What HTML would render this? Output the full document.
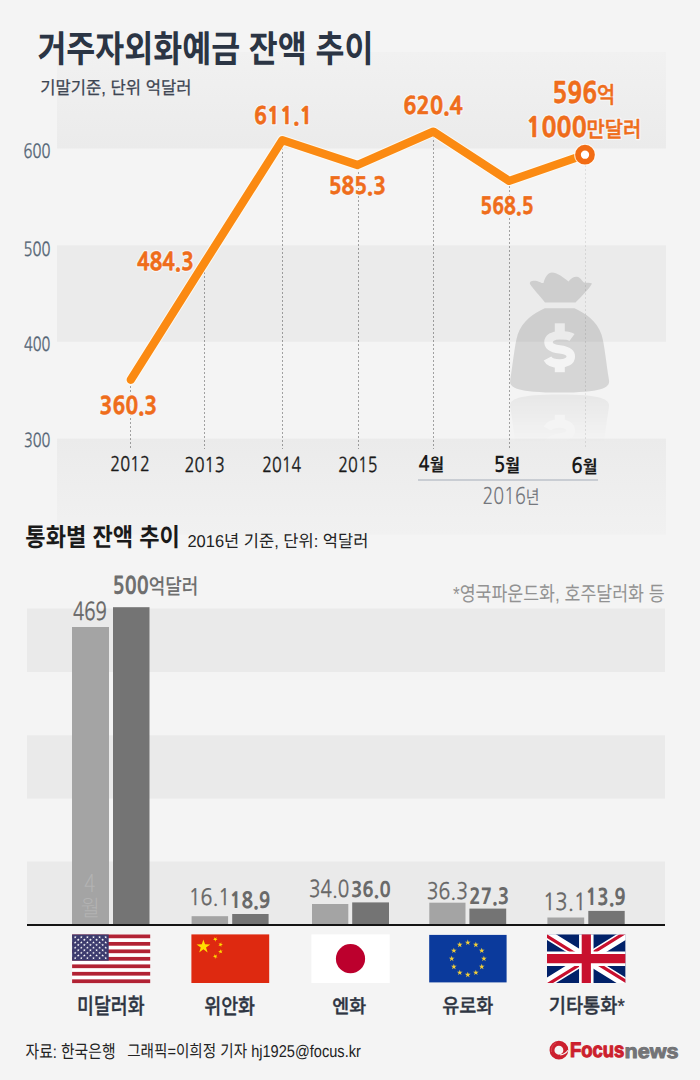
<!DOCTYPE html>
<html lang="ko"><head><meta charset="utf-8"><title>거주자외화예금 잔액 추이</title>
<style>
html,body{margin:0;padding:0;background:#f4f4f4;}
body{width:700px;height:1080px;overflow:hidden;}
svg{display:block;} text{text-rendering:geometricPrecision;}
</style></head>
<body>
<svg width="700" height="1080" viewBox="0 0 700 1080">
<defs>
 <linearGradient id="gA" x1="0" y1="0" x2="0" y2="1"><stop offset="0" stop-color="#f1f1f1"/><stop offset="1" stop-color="#ebebeb"/></linearGradient>
 <linearGradient id="gC" x1="0" y1="0" x2="0" y2="1"><stop offset="0" stop-color="#ebebeb"/><stop offset="1" stop-color="#f1f1f1"/></linearGradient>
 <linearGradient id="gR" x1="0" y1="0" x2="0" y2="1"><stop offset="0" stop-color="#fff" stop-opacity="0.42"/><stop offset="1" stop-color="#fff" stop-opacity="0"/></linearGradient>
 <mask id="mDollar" maskUnits="userSpaceOnUse" x="490" y="260" width="140" height="200">
  <rect x="490" y="260" width="140" height="200" fill="#fff"/>
  <rect x="554.8" y="323.3" width="10" height="10" fill="#000"/>
  <rect x="554.8" y="364" width="10" height="8.2" fill="#000"/>
  <path d="M572 337.5 C569.5 335.6 565 335.2 559.7 335.2 C553 335.2 548.5 338 548.5 342.2 C548.5 347 553 348.5 559.7 349.4 C566.5 350.3 570.8 352 570.8 356.5 C570.8 361 566 363.6 559.7 363.6 C553.5 363.6 549 361.5 547.5 358.5" fill="none" stroke="#000" stroke-width="8.5"/>
 </mask>
 <mask id="mRefl" maskUnits="userSpaceOnUse" x="490" y="390" width="140" height="70">
  <rect x="490" y="393" width="140" height="50" fill="url(#gR)"/>
 </mask>
 <g id="bag">
  <path d="M545 302.5 C540 296 533 289 530 284 C529 281 533 280 537 281 C540 282 542 283.5 543.5 283 C545 277 548 272.5 552 272.5 C557 272.5 563 277 568.5 281.5 C571 278 574 276.5 577 276.8 C580 277 582 281 584 282.5 C587 283 590 282.5 592 283.5 C590 288 582 296 575.5 302.5 Z"/>
  <path d="M544.7 308.3 L574.5 308.3 C585 313 597 321 601.5 334.6 C604.5 344 606 362 609 380 C610.5 388 601 392.6 559.6 392.6 C518 392.6 508.7 388 510.2 380 C513.2 362 514.7 344 517.7 334.6 C522.2 321 534.2 313 544.7 308.3 Z"/>
 </g>
</defs>
<g class="shape">
 <rect x="0" y="0" width="700" height="1080" fill="#f4f4f4"/>
 <!-- top chart bands -->
 <rect x="57" y="52" width="609" height="96.5" fill="url(#gA)"/>
 <rect x="57" y="245.3" width="609" height="96.5" fill="#ebebeb"/>
 <rect x="57" y="438.6" width="609" height="96" fill="url(#gC)"/>
 <!-- money bag -->
 <g mask="url(#mDollar)" fill="#000" fill-opacity="0.12"><use href="#bag"/></g>
 <g mask="url(#mRefl)"><g transform="translate(0 787) scale(1 -1)" fill="#000" fill-opacity="0.12"><use href="#bag" mask="url(#mDollar)"/></g></g>
 <!-- dotted lines -->
 <g stroke="#000" stroke-opacity="0.34" stroke-width="1" stroke-dasharray="2 2">
  <line x1="130.5" y1="386" x2="130.5" y2="449"/>
  <line x1="204.5" y1="272" x2="204.5" y2="449"/>
  <line x1="282.5" y1="144" x2="282.5" y2="449"/>
  <line x1="358.5" y1="168" x2="358.5" y2="449"/>
  <line x1="433.5" y1="136" x2="433.5" y2="449"/>
  <line x1="509.5" y1="186" x2="509.5" y2="449"/>
  <line x1="585.5" y1="165" x2="585.5" y2="449" stroke-opacity="0.09"/>
 </g>
 <!-- orange line -->
 <polyline points="130.8,379.8 204.5,262.8 282.3,140.1 357.5,165.0 433.3,131.6 509.2,180.9 585,154.7" fill="none" stroke="#fffbf2" stroke-opacity="0.8" stroke-width="10.4" stroke-linecap="round" stroke-linejoin="round"/>
 <polyline points="130.8,379.8 204.5,262.8 282.3,140.1 357.5,165.0 433.3,131.6 509.2,180.9 585,154.7" fill="none" stroke="#fb8a12" stroke-width="8.3" stroke-linecap="round" stroke-linejoin="round"/>
 <circle cx="585" cy="154.7" r="10.9" fill="#fffbf2" fill-opacity="0.8"/>
 <circle cx="585" cy="154.7" r="7.0" fill="#fff" stroke="#f26c14" stroke-width="5.7"/>
 <!-- month separator -->
 <rect x="418" y="479" width="180" height="2" fill="#c9cdd3"/>
 <!-- bottom chart bands -->
 <rect x="27" y="608.5" width="638" height="63.5" fill="#eaeaea"/>
 <rect x="27" y="735.3" width="638" height="63.3" fill="#eaeaea"/>
 <rect x="27" y="861.5" width="638" height="63.5" fill="#eaeaea"/>
 <!-- bars -->
 <g fill="#a4a4a4">
  <rect x="72" y="627" width="37" height="297"/>
  <rect x="191.6" y="916.2" width="36.5" height="7.8"/>
  <rect x="312" y="904" width="36.3" height="20"/>
  <rect x="429.3" y="902.7" width="36.2" height="21.3"/>
  <rect x="547.4" y="917.5" width="36.8" height="6.5"/>
 </g>
 <g fill="#747474">
  <rect x="113" y="607.2" width="36.5" height="316.8"/>
  <rect x="232.2" y="914" width="36.4" height="10"/>
  <rect x="352.2" y="902.4" width="36.8" height="21.6"/>
  <rect x="469.4" y="908.6" width="36.8" height="15.4"/>
  <rect x="588.3" y="910.9" width="36.4" height="13.1"/>
 </g>
 <rect x="27" y="924" width="638" height="2" fill="#141414"/>
<!-- flags -->
<defs><polygon id="st" points="0.00,-1.50 0.34,-0.46 1.43,-0.46 0.54,0.18 0.88,1.21 0.00,0.57 -0.88,1.21 -0.54,0.18 -1.43,-0.46 -0.34,-0.46"/></defs>
<g id="flagUS">
 <rect x="72.1" y="934.5" width="78.1" height="48.6" fill="#fff"/>
 <rect x="72.1" y="934.50" width="78.1" height="3.74" fill="#b22234"/><rect x="72.1" y="941.98" width="78.1" height="3.74" fill="#b22234"/><rect x="72.1" y="949.45" width="78.1" height="3.74" fill="#b22234"/><rect x="72.1" y="956.93" width="78.1" height="3.74" fill="#b22234"/><rect x="72.1" y="964.41" width="78.1" height="3.74" fill="#b22234"/><rect x="72.1" y="971.88" width="78.1" height="3.74" fill="#b22234"/><rect x="72.1" y="979.36" width="78.1" height="3.74" fill="#b22234"/>
 <rect x="72.1" y="934.5" width="36.6" height="26.17" fill="#3c3b6e"/>
 <g fill="#fff"><use href="#st" x="75.20" y="937.20"/><use href="#st" x="81.30" y="937.20"/><use href="#st" x="87.40" y="937.20"/><use href="#st" x="93.50" y="937.20"/><use href="#st" x="99.60" y="937.20"/><use href="#st" x="105.70" y="937.20"/><use href="#st" x="78.25" y="939.81"/><use href="#st" x="84.35" y="939.81"/><use href="#st" x="90.45" y="939.81"/><use href="#st" x="96.55" y="939.81"/><use href="#st" x="102.65" y="939.81"/><use href="#st" x="75.20" y="942.43"/><use href="#st" x="81.30" y="942.43"/><use href="#st" x="87.40" y="942.43"/><use href="#st" x="93.50" y="942.43"/><use href="#st" x="99.60" y="942.43"/><use href="#st" x="105.70" y="942.43"/><use href="#st" x="78.25" y="945.04"/><use href="#st" x="84.35" y="945.04"/><use href="#st" x="90.45" y="945.04"/><use href="#st" x="96.55" y="945.04"/><use href="#st" x="102.65" y="945.04"/><use href="#st" x="75.20" y="947.65"/><use href="#st" x="81.30" y="947.65"/><use href="#st" x="87.40" y="947.65"/><use href="#st" x="93.50" y="947.65"/><use href="#st" x="99.60" y="947.65"/><use href="#st" x="105.70" y="947.65"/><use href="#st" x="78.25" y="950.26"/><use href="#st" x="84.35" y="950.26"/><use href="#st" x="90.45" y="950.26"/><use href="#st" x="96.55" y="950.26"/><use href="#st" x="102.65" y="950.26"/><use href="#st" x="75.20" y="952.88"/><use href="#st" x="81.30" y="952.88"/><use href="#st" x="87.40" y="952.88"/><use href="#st" x="93.50" y="952.88"/><use href="#st" x="99.60" y="952.88"/><use href="#st" x="105.70" y="952.88"/><use href="#st" x="78.25" y="955.49"/><use href="#st" x="84.35" y="955.49"/><use href="#st" x="90.45" y="955.49"/><use href="#st" x="96.55" y="955.49"/><use href="#st" x="102.65" y="955.49"/><use href="#st" x="75.20" y="958.10"/><use href="#st" x="81.30" y="958.10"/><use href="#st" x="87.40" y="958.10"/><use href="#st" x="93.50" y="958.10"/><use href="#st" x="99.60" y="958.10"/><use href="#st" x="105.70" y="958.10"/></g>
</g>
<g id="flagCN"><rect x="191.4" y="934.4" width="77.8" height="48.6" fill="#de2910"/><polygon points="203.40,939.40 205.02,944.37 210.25,944.38 206.02,947.45 207.63,952.42 203.40,949.35 199.17,952.42 200.78,947.45 196.55,944.38 201.78,944.37" fill="#ffde00"/><polygon points="216.77,937.18 216.21,938.90 217.68,939.97 215.86,939.97 215.30,941.70 214.74,939.97 212.92,939.97 214.39,938.90 213.83,937.18 215.30,938.25" fill="#ffde00"/><polygon points="221.27,942.22 221.27,944.04 223.00,944.60 221.27,945.16 221.27,946.98 220.20,945.51 218.48,946.07 219.54,944.60 218.48,943.13 220.20,943.69" fill="#ffde00"/><polygon points="220.07,949.14 220.92,950.74 222.71,950.43 221.45,951.73 222.30,953.34 220.67,952.54 219.40,953.85 219.66,952.05 218.02,951.25 219.81,950.94" fill="#ffde00"/><polygon points="214.05,954.23 215.40,955.45 216.97,954.54 216.23,956.20 217.58,957.42 215.78,957.23 215.04,958.89 214.66,957.11 212.85,956.92 214.43,956.01" fill="#ffde00"/></g>
<g id="flagJP"><rect x="311.4" y="934.4" width="78.3" height="48.6" fill="#fff"/><circle cx="350.5" cy="958.7" r="14.6" fill="#bc002d"/></g>
<g id="flagEU"><rect x="429.2" y="934.9" width="77.4" height="47.5" fill="#0b3a9c"/><polygon points="467.80,939.60 468.47,941.67 470.65,941.67 468.89,942.95 469.56,945.03 467.80,943.75 466.04,945.03 466.71,942.95 464.95,941.67 467.13,941.67" fill="#f3cf38"/><polygon points="475.85,941.76 476.52,943.83 478.70,943.83 476.94,945.11 477.61,947.18 475.85,945.90 474.09,947.18 474.76,945.11 473.00,943.83 475.18,943.83" fill="#f3cf38"/><polygon points="481.74,947.65 482.42,949.72 484.60,949.72 482.83,951.00 483.51,953.08 481.74,951.80 479.98,953.08 480.65,951.00 478.89,949.72 481.07,949.72" fill="#f3cf38"/><polygon points="483.90,955.70 484.57,957.77 486.75,957.77 484.99,959.05 485.66,961.13 483.90,959.85 482.14,961.13 482.81,959.05 481.05,957.77 483.23,957.77" fill="#f3cf38"/><polygon points="481.74,963.75 482.42,965.82 484.60,965.82 482.83,967.10 483.51,969.18 481.74,967.90 479.98,969.18 480.65,967.10 478.89,965.82 481.07,965.82" fill="#f3cf38"/><polygon points="475.85,969.64 476.52,971.72 478.70,971.72 476.94,973.00 477.61,975.07 475.85,973.79 474.09,975.07 474.76,973.00 473.00,971.72 475.18,971.72" fill="#f3cf38"/><polygon points="467.80,971.80 468.47,973.87 470.65,973.87 468.89,975.15 469.56,977.23 467.80,975.95 466.04,977.23 466.71,975.15 464.95,973.87 467.13,973.87" fill="#f3cf38"/><polygon points="459.75,969.64 460.42,971.72 462.60,971.72 460.84,973.00 461.51,975.07 459.75,973.79 457.99,975.07 458.66,973.00 456.90,971.72 459.08,971.72" fill="#f3cf38"/><polygon points="453.86,963.75 454.53,965.82 456.71,965.82 454.95,967.10 455.62,969.18 453.86,967.90 452.09,969.18 452.77,967.10 451.00,965.82 453.18,965.82" fill="#f3cf38"/><polygon points="451.70,955.70 452.37,957.77 454.55,957.77 452.79,959.05 453.46,961.13 451.70,959.85 449.94,961.13 450.61,959.05 448.85,957.77 451.03,957.77" fill="#f3cf38"/><polygon points="453.86,947.65 454.53,949.72 456.71,949.72 454.95,951.00 455.62,953.08 453.86,951.80 452.09,953.08 452.77,951.00 451.00,949.72 453.18,949.72" fill="#f3cf38"/><polygon points="459.75,941.76 460.42,943.83 462.60,943.83 460.84,945.11 461.51,947.18 459.75,945.90 457.99,947.18 458.66,945.11 456.90,943.83 459.08,943.83" fill="#f3cf38"/></g>
<svg id="flagUK" x="547" y="934.3" width="78.6" height="48.7" viewBox="0 0 78.6 48.7" preserveAspectRatio="none">
 <clipPath id="ukc"><rect width="78.6" height="48.7"/></clipPath>
 <clipPath id="ukt"><path d="M39.3,24.35 H78.6 V48.7 Z V48.7 H0 Z H0 V0 Z V0 H78.6 Z"/></clipPath>
 <g clip-path="url(#ukc)">
 <rect width="78.6" height="48.7" fill="#012169"/>
 <path d="M0,0 L78.6,48.7 M78.6,0 L0,48.7" stroke="#fff" stroke-width="9.5"/>
 <path d="M0,0 L78.6,48.7 M78.6,0 L0,48.7" stroke="#c8102e" stroke-width="6.4" clip-path="url(#ukt)"/>
 <path d="M39.3,0 V48.7 M0,24.35 H78.6" stroke="#fff" stroke-width="14.5"/>
 <path d="M39.3,0 V48.7 M0,24.35 H78.6" stroke="#c8102e" stroke-width="9.2"/>
 </g>
</svg>
<g id="logo">
 <circle cx="558.9" cy="1050.2" r="6.9" fill="none" stroke="#cc1f2e" stroke-width="4.9"/>
 <path d="M560.2 1054.8 C563.5 1054.6 566.2 1053 568 1050.2" fill="none" stroke="#f4f4f4" stroke-width="1.2"/>
 <path d="M551.5 1052 C551 1048 552.5 1044.5 556 1043" fill="none" stroke="#f08a90" stroke-width="0.6" opacity="0.6"/>
</g>
</g>
<text id="title" x="37.38" y="61.53" font-family="'Liberation Sans','Noto Sans CJK KR',sans-serif" font-weight="700" font-size="36.84" textLength="336.10" lengthAdjust="spacingAndGlyphs" fill="#2b3544">거주자외화예금 잔액 추이</text>
<text id="sub" x="40.35" y="94.25" font-family="'Liberation Sans','Noto Sans CJK KR',sans-serif" font-weight="400" font-size="17.83" textLength="151.05" lengthAdjust="spacingAndGlyphs" fill="#3d4552" stroke="#3d4552" stroke-width="0.25" stroke-linejoin="round">기말기준, 단위 억달러</text>
<text id="y600" x="23.52" y="158.10" font-family="'NanumGothic','Liberation Sans',sans-serif" font-weight="400" font-size="19.81" textLength="26.85" lengthAdjust="spacingAndGlyphs" fill="#566676" stroke="#566676" stroke-width="0.3" stroke-linejoin="round">600</text>
<text id="y500" x="23.45" y="256.03" font-family="'NanumGothic','Liberation Sans',sans-serif" font-weight="400" font-size="19.39" textLength="26.91" lengthAdjust="spacingAndGlyphs" fill="#566676" stroke="#566676" stroke-width="0.3" stroke-linejoin="round">500</text>
<text id="y400" x="24.01" y="350.90" font-family="'NanumGothic','Liberation Sans',sans-serif" font-weight="400" font-size="19.39" textLength="26.34" lengthAdjust="spacingAndGlyphs" fill="#566676" stroke="#566676" stroke-width="0.3" stroke-linejoin="round">400</text>
<text id="y300" x="23.95" y="447.15" font-family="'NanumGothic','Liberation Sans',sans-serif" font-weight="400" font-size="19.31" textLength="26.46" lengthAdjust="spacingAndGlyphs" fill="#566676" stroke="#566676" stroke-width="0.3" stroke-linejoin="round">300</text>
<text x="99.62" y="414.46" font-family="'NanumGothic','Liberation Sans',sans-serif" font-weight="800" font-size="23.74" textLength="57.48" lengthAdjust="spacingAndGlyphs" fill="none" stroke="#f6f6f6" stroke-width="3" stroke-linejoin="round">360.3</text><text id="v1" x="99.62" y="414.46" font-family="'NanumGothic','Liberation Sans',sans-serif" font-weight="800" font-size="23.74" textLength="57.48" lengthAdjust="spacingAndGlyphs" fill="#ef6d1b" stroke="#ef6d1b" stroke-width="0.5" stroke-linejoin="round">360.3</text>
<text x="137.10" y="269.73" font-family="'NanumGothic','Liberation Sans',sans-serif" font-weight="800" font-size="23.79" textLength="56.63" lengthAdjust="spacingAndGlyphs" fill="none" stroke="#f6f6f6" stroke-width="3" stroke-linejoin="round">484.3</text><text id="v2" x="137.10" y="269.73" font-family="'NanumGothic','Liberation Sans',sans-serif" font-weight="800" font-size="23.79" textLength="56.63" lengthAdjust="spacingAndGlyphs" fill="#ef6d1b" stroke="#ef6d1b" stroke-width="0.5" stroke-linejoin="round">484.3</text>
<text x="253.95" y="124.43" font-family="'NanumGothic','Liberation Sans',sans-serif" font-weight="800" font-size="23.37" textLength="58.45" lengthAdjust="spacingAndGlyphs" fill="none" stroke="#f6f6f6" stroke-width="3" stroke-linejoin="round">611.1</text><text id="v3" x="253.95" y="124.43" font-family="'NanumGothic','Liberation Sans',sans-serif" font-weight="800" font-size="23.37" textLength="58.45" lengthAdjust="spacingAndGlyphs" fill="#ef6d1b" stroke="#ef6d1b" stroke-width="0.5" stroke-linejoin="round">611.1</text>
<text x="328.74" y="194.37" font-family="'NanumGothic','Liberation Sans',sans-serif" font-weight="800" font-size="23.12" textLength="57.18" lengthAdjust="spacingAndGlyphs" fill="none" stroke="#f6f6f6" stroke-width="3" stroke-linejoin="round">585.3</text><text id="v4" x="328.74" y="194.37" font-family="'NanumGothic','Liberation Sans',sans-serif" font-weight="800" font-size="23.12" textLength="57.18" lengthAdjust="spacingAndGlyphs" fill="#ef6d1b" stroke="#ef6d1b" stroke-width="0.5" stroke-linejoin="round">585.3</text>
<text x="403.20" y="114.00" font-family="'NanumGothic','Liberation Sans',sans-serif" font-weight="800" font-size="23.58" textLength="59.62" lengthAdjust="spacingAndGlyphs" fill="none" stroke="#f6f6f6" stroke-width="3" stroke-linejoin="round">620.4</text><text id="v5" x="403.20" y="114.00" font-family="'NanumGothic','Liberation Sans',sans-serif" font-weight="800" font-size="23.58" textLength="59.62" lengthAdjust="spacingAndGlyphs" fill="#ef6d1b" stroke="#ef6d1b" stroke-width="0.5" stroke-linejoin="round">620.4</text>
<text x="480.32" y="213.81" font-family="'NanumGothic','Liberation Sans',sans-serif" font-weight="800" font-size="22.88" textLength="53.18" lengthAdjust="spacingAndGlyphs" fill="none" stroke="#f6f6f6" stroke-width="3" stroke-linejoin="round">568.5</text><text id="v6" x="480.32" y="213.81" font-family="'NanumGothic','Liberation Sans',sans-serif" font-weight="800" font-size="22.88" textLength="53.18" lengthAdjust="spacingAndGlyphs" fill="#ef6d1b" stroke="#ef6d1b" stroke-width="0.5" stroke-linejoin="round">568.5</text>
<text id="x2012" x="110.28" y="471.39" font-family="'NanumGothic','Liberation Sans',sans-serif" font-weight="400" font-size="20.09" textLength="39.61" lengthAdjust="spacingAndGlyphs" fill="#1a1a1a" stroke="#1a1a1a" stroke-width="0.35" stroke-linejoin="round">2012</text>
<text id="x2013" x="184.43" y="471.58" font-family="'NanumGothic','Liberation Sans',sans-serif" font-weight="400" font-size="20.18" textLength="40.37" lengthAdjust="spacingAndGlyphs" fill="#1a1a1a" stroke="#1a1a1a" stroke-width="0.35" stroke-linejoin="round">2013</text>
<text id="x2014" x="262.22" y="471.58" font-family="'NanumGothic','Liberation Sans',sans-serif" font-weight="400" font-size="20.53" textLength="38.94" lengthAdjust="spacingAndGlyphs" fill="#1a1a1a" stroke="#1a1a1a" stroke-width="0.35" stroke-linejoin="round">2014</text>
<text id="x2015" x="338.37" y="471.73" font-family="'NanumGothic','Liberation Sans',sans-serif" font-weight="400" font-size="20.47" textLength="39.06" lengthAdjust="spacingAndGlyphs" fill="#1a1a1a" stroke="#1a1a1a" stroke-width="0.35" stroke-linejoin="round">2015</text>
<text id="sec2" x="25.37" y="545.96" font-family="'Liberation Sans','Noto Sans CJK KR',sans-serif" font-weight="700" font-size="25.19" textLength="154.38" lengthAdjust="spacingAndGlyphs" fill="#1a1a1a">통화별 잔액 추이</text>
<text id="sec2sub" x="187.46" y="547.09" font-family="'Liberation Sans','Noto Sans CJK KR',sans-serif" font-weight="400" font-size="17.07" textLength="180.86" lengthAdjust="spacingAndGlyphs" fill="#222222">2016년 기준, 단위: 억달러</text>
<text id="b469" x="73.09" y="620.15" font-family="'NanumGothic','Liberation Sans',sans-serif" font-weight="400" font-size="24.56" textLength="33.82" lengthAdjust="spacingAndGlyphs" fill="#666666" stroke="#666666" stroke-width="0.4" stroke-linejoin="round">469</text>
<text id="note" x="452.95" y="601.47" font-family="'Liberation Sans','Noto Sans CJK KR',sans-serif" font-weight="400" font-size="20.43" textLength="211.72" lengthAdjust="spacingAndGlyphs" fill="#929292">*영국파운드화, 호주달러화 등</text>
<text id="b161" x="188.73" y="904.58" font-family="'NanumGothic','Liberation Sans',sans-serif" font-weight="400" font-size="22.54" textLength="41.52" lengthAdjust="spacingAndGlyphs" fill="#666666" stroke="#666666" stroke-width="0.4" stroke-linejoin="round">16.1</text>
<text id="b189" x="229.77" y="908.33" font-family="'NanumGothic','Liberation Sans',sans-serif" font-weight="800" font-size="21.70" textLength="40.67" lengthAdjust="spacingAndGlyphs" fill="#6a6a6a">18.9</text>
<text id="b340" x="309.03" y="897.06" font-family="'NanumGothic','Liberation Sans',sans-serif" font-weight="400" font-size="23.24" textLength="40.19" lengthAdjust="spacingAndGlyphs" fill="#666666" stroke="#666666" stroke-width="0.4" stroke-linejoin="round">34.0</text>
<text id="b360" x="350.90" y="896.97" font-family="'NanumGothic','Liberation Sans',sans-serif" font-weight="800" font-size="20.95" textLength="39.78" lengthAdjust="spacingAndGlyphs" fill="#6a6a6a">36.0</text>
<text id="b363" x="426.87" y="898.55" font-family="'NanumGothic','Liberation Sans',sans-serif" font-weight="400" font-size="22.69" textLength="41.11" lengthAdjust="spacingAndGlyphs" fill="#666666" stroke="#666666" stroke-width="0.4" stroke-linejoin="round">36.3</text>
<text id="b273" x="469.32" y="903.87" font-family="'NanumGothic','Liberation Sans',sans-serif" font-weight="800" font-size="21.67" textLength="39.83" lengthAdjust="spacingAndGlyphs" fill="#6a6a6a">27.3</text>
<text id="b131" x="542.96" y="910.42" font-family="'NanumGothic','Liberation Sans',sans-serif" font-weight="400" font-size="23.29" textLength="43.26" lengthAdjust="spacingAndGlyphs" fill="#666666" stroke="#666666" stroke-width="0.4" stroke-linejoin="round">13.1</text>
<text id="b139" x="585.82" y="905.45" font-family="'NanumGothic','Liberation Sans',sans-serif" font-weight="800" font-size="22.51" textLength="39.95" lengthAdjust="spacingAndGlyphs" fill="#6a6a6a">13.9</text>
<text id="f1" x="77.02" y="1013.60" font-family="'Liberation Sans','Noto Sans CJK KR',sans-serif" font-weight="500" font-size="22.35" textLength="67.51" lengthAdjust="spacingAndGlyphs" fill="#2e3542" stroke="#2e3542" stroke-width="0.35" stroke-linejoin="round">미달러화</text>
<text id="f2" x="204.19" y="1013.73" font-family="'Liberation Sans','Noto Sans CJK KR',sans-serif" font-weight="500" font-size="21.44" textLength="50.83" lengthAdjust="spacingAndGlyphs" fill="#2e3542" stroke="#2e3542" stroke-width="0.35" stroke-linejoin="round">위안화</text>
<text id="f3" x="332.37" y="1012.90" font-family="'Liberation Sans','Noto Sans CJK KR',sans-serif" font-weight="500" font-size="19.02" textLength="33.87" lengthAdjust="spacingAndGlyphs" fill="#2e3542" stroke="#2e3542" stroke-width="0.35" stroke-linejoin="round">엔화</text>
<text id="f4" x="442.26" y="1012.56" font-family="'Liberation Sans','Noto Sans CJK KR',sans-serif" font-weight="500" font-size="20.29" textLength="51.16" lengthAdjust="spacingAndGlyphs" fill="#2e3542" stroke="#2e3542" stroke-width="0.35" stroke-linejoin="round">유로화</text>
<text id="f5" x="548.69" y="1013.32" font-family="'Liberation Sans','Noto Sans CJK KR',sans-serif" font-weight="500" font-size="20.47" textLength="76.09" lengthAdjust="spacingAndGlyphs" fill="#2e3542" stroke="#2e3542" stroke-width="0.35" stroke-linejoin="round">기타통화*</text>
<text id="src" x="25.50" y="1057.67" font-family="'Liberation Sans','Noto Sans CJK KR',sans-serif" font-weight="400" font-size="18.15" textLength="90.01" lengthAdjust="spacingAndGlyphs" fill="#222222">자료: 한국은행</text>
<text id="credit" x="127.17" y="1057.20" font-family="'Liberation Sans','Noto Sans CJK KR',sans-serif" font-weight="400" font-size="17.07" textLength="233.69" lengthAdjust="spacingAndGlyphs" fill="#222222">그래픽=이희정 기자 hj1925@focus.kr</text>
<text id="m4" x="418.47" y="471.20" font-family="'NanumGothic','Liberation Sans',sans-serif" font-weight="700" font-size="20.99" textLength="25.41" lengthAdjust="spacingAndGlyphs" fill="#1a1a1a">4<tspan font-family="'Noto Sans CJK KR',sans-serif" font-size="84%" font-weight="700">월</tspan></text>
<text id="m5" x="493.76" y="472.42" font-family="'NanumGothic','Liberation Sans',sans-serif" font-weight="700" font-size="21.54" textLength="26.37" lengthAdjust="spacingAndGlyphs" fill="#1a1a1a">5<tspan font-family="'Noto Sans CJK KR',sans-serif" font-size="84%" font-weight="700">월</tspan></text>
<text id="m6" x="571.30" y="472.77" font-family="'NanumGothic','Liberation Sans',sans-serif" font-weight="700" font-size="21.10" textLength="26.24" lengthAdjust="spacingAndGlyphs" fill="#1a1a1a">6<tspan font-family="'Noto Sans CJK KR',sans-serif" font-size="84%" font-weight="700">월</tspan></text>
<text id="y2016" x="482.39" y="504.28" font-family="'NanumGothic','Liberation Sans',sans-serif" font-weight="400" font-size="22.97" textLength="57.13" lengthAdjust="spacingAndGlyphs" fill="#75787e">2016<tspan font-family="'Noto Sans CJK KR',sans-serif" font-size="83%" font-weight="400">년</tspan></text>
<text x="552.27" y="102.74" font-family="'NanumGothic','Liberation Sans',sans-serif" font-weight="800" font-size="28.63" textLength="62.94" lengthAdjust="spacingAndGlyphs" fill="none" stroke="#f6f6f6" stroke-width="3" stroke-linejoin="round">596<tspan font-family="'Noto Sans CJK KR',sans-serif" font-size="80%" font-weight="500">억</tspan></text><text id="v7a" x="552.27" y="102.74" font-family="'NanumGothic','Liberation Sans',sans-serif" font-weight="800" font-size="28.63" textLength="62.94" lengthAdjust="spacingAndGlyphs" fill="#ef6d1b" stroke="#ef6d1b" stroke-width="0.5" stroke-linejoin="round">596<tspan font-family="'Noto Sans CJK KR',sans-serif" font-size="80%" font-weight="500">억</tspan></text>
<text x="526.25" y="137.21" font-family="'NanumGothic','Liberation Sans',sans-serif" font-weight="800" font-size="27.18" textLength="115.11" lengthAdjust="spacingAndGlyphs" fill="none" stroke="#f6f6f6" stroke-width="3" stroke-linejoin="round">1000<tspan font-family="'Noto Sans CJK KR',sans-serif" font-size="80%" font-weight="500">만달러</tspan></text><text id="v7b" x="526.25" y="137.21" font-family="'NanumGothic','Liberation Sans',sans-serif" font-weight="800" font-size="27.18" textLength="115.11" lengthAdjust="spacingAndGlyphs" fill="#ef6d1b" stroke="#ef6d1b" stroke-width="0.5" stroke-linejoin="round">1000<tspan font-family="'Noto Sans CJK KR',sans-serif" font-size="80%" font-weight="500">만달러</tspan></text>
<text id="b500" x="112.39" y="594.27" font-family="'NanumGothic','Liberation Sans',sans-serif" font-weight="800" font-size="23.87" textLength="85.97" lengthAdjust="spacingAndGlyphs" fill="#6f6f6f">500<tspan font-family="'Noto Sans CJK KR',sans-serif" font-size="90%" font-weight="500">억달러</tspan></text>
<text id="vm4a" x="84.25" y="891.80" font-family="'Noto Sans CJK KR',sans-serif" font-weight="300" font-size="24.63" textLength="11.13" lengthAdjust="spacingAndGlyphs" fill="#b3b3b3">4</text>
<text id="vm4b" x="80.63" y="915.54" font-family="'Noto Sans CJK KR',sans-serif" font-weight="300" font-size="22.37" textLength="19.21" lengthAdjust="spacingAndGlyphs" fill="#b3b3b3">월</text>
<text id="lfocus" x="569.91" y="1057.36" font-family="'Liberation Sans',sans-serif" font-weight="700" font-size="21.12" textLength="54.33" lengthAdjust="spacingAndGlyphs" fill="#cc1f2e" stroke="#cc1f2e" stroke-width="1.1" stroke-linejoin="round">Focus</text>
<text id="lnews" x="624.62" y="1057.81" font-family="'Liberation Sans',sans-serif" font-weight="700" font-size="19.93" textLength="53.97" lengthAdjust="spacingAndGlyphs" fill="#737477" stroke="#737477" stroke-width="1.0" stroke-linejoin="round">news</text>
</svg>
</body></html>
